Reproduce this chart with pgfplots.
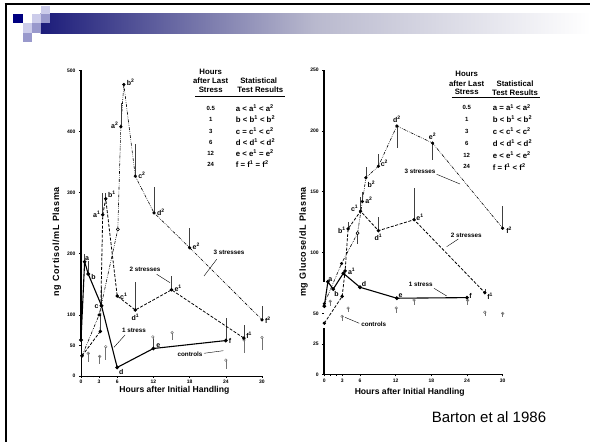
\documentclass[border=0pt]{standalone}
\usepackage{fontspec}
\setmainfont{Liberation Sans}
\usepackage{pgfplots}
\pgfplotsset{compat=1.18}
\definecolor{navy}{RGB}{0,0,128}
\definecolor{barL}{RGB}{28,28,122}
\definecolor{barM}{RGB}{185,185,206}
\definecolor{sqM}{RGB}{153,153,204}
\definecolor{sqL}{RGB}{204,204,234}
\newcommand{\lbl}{\fontsize{7}{8}\selectfont\bfseries}
\newcommand{\ann}{\fontsize{6.3}{7}\selectfont\bfseries}
\newcommand{\tbl}{\fontsize{7.8}{9.3}\selectfont\bfseries}
\newcommand{\su}[1]{\textsuperscript{#1}}
\pgfplotsset{
  panel/.style={scale only axis, anchor=south west, xmin=0, xmax=30, ymin=0, clip=false,
    axis x line=bottom, axis y line=left, axis line style={-, line width=0.8pt},
    y axis line style={draw=none},
    xtick={0,3,6,12,18,24,30}, minor xtick={1,2},
    tick align=outside, major tick length=2pt, minor tick length=1.5pt,
    every tick/.style={black, line width=0.6pt},
    tick label style={font=\fontsize{5}{6}\selectfont\bfseries},
    xticklabel style={yshift=1.2pt},
    /pgf/number format/assume math mode=true},
  ebar/.style={error bars/y dir=both, error bars/y explicit, error bars/error mark=none,
    error bars/error bar style={solid, line width=0.5pt, black!75}},
  one/.style={black, line width=1.1pt, mark=*, mark size=1.3pt, mark options={solid}, ebar},
  two/.style={black, line width=0.8pt, dash pattern=on 3pt off 1.6pt, mark=*, mark size=1.3pt, mark options={solid}, ebar},
  three/.style={black, line width=0.6pt, dash pattern=on 3pt off 1.2pt on 0.6pt off 1.2pt on 0.6pt off 1.2pt, mark=*, mark size=1.3pt, mark options={solid}, ebar},
  ctrl/.style={only marks, black!55, mark=o, mark size=1.3pt, mark options={line width=0.5pt},
    error bars/y dir=minus, error bars/y explicit, error bars/error mark=none,
    error bars/error bar style={line width=0.5pt, black!55}},
}
\begin{document}
\begin{tikzpicture}
\fill[white] (0,0) rectangle (590pt,442pt);
\path[use as bounding box] (0,0) rectangle (590pt,442pt);
% slide decoration
\shade[left color=barL, right color=white, middle color=barM] (40.6pt,408.9pt) rectangle (590pt,428.1pt);
\fill[navy] (13.2pt,418.7pt) rectangle (22.6pt,428.1pt);
\fill[sqL] (40.6pt,428.1pt) rectangle (49.7pt,436.4pt);
\fill[sqL] (32pt,418.7pt) rectangle (40.6pt,428.1pt);
\fill[sqM] (40.6pt,418.7pt) rectangle (49.7pt,428.1pt);
\fill[sqL] (22.6pt,408.9pt) rectangle (32pt,418.7pt);
\fill[sqM] (32pt,408.9pt) rectangle (40.6pt,418.7pt);
\fill[sqM] (22.6pt,399.5pt) rectangle (32pt,408.9pt);
\draw[line width=2.6pt] (6pt,0) -- (6pt,439pt);
\draw[line width=2.4pt] (4.7pt,437.8pt) -- (590pt,437.8pt);
\node[font=\fontsize{15}{16}\selectfont] at (489pt,24.4pt) {Barton et al 1986};

% ---------------- left panel: cortisol ----------------
\begin{axis}[panel, at={(81pt,66pt)}, width=181pt, height=305.5pt, ymax=500,
  ytick={0,50,100,200,300,400,500}]
\draw[line width=1.9pt] (axis cs:0,59) -- (axis cs:0,500);
\draw[line width=0.8pt] (axis cs:0,0) -- (axis cs:0,59);
\addplot[ctrl] coordinates {(1.2,37) +- (0,14) (3.1,32) +- (0,12) (4.1,48) +- (0,22)
  (11.9,64) +- (0,17) (15.1,71) +- (0,12) (24,26) +- (0,14) (27,59) +- (0,22) (30,63) +- (0,21)};
\addplot[one] coordinates {(0,59) += (0,0) -= (0,0) (0.6,187) += (0,12) -= (0,0)
  (1.2,167) += (0,22) -= (0,0) (3.4,115) += (0,30) -= (0,0) (6,14) += (0,0) -= (0,0)
  (12,45) += (0,16) -= (0,0) (24,58) += (0,37) -= (0,0)};
\addplot[two] coordinates {(0.17,33) += (0,0) -= (0,0) (3.2,73) += (0,25) -= (0,0)
  (3.6,264) += (0,36) -= (0,0) (4.1,290) += (0,10) -= (0,0) (6,131) += (0,0) -= (0,0)
  (9,108) += (0,46) -= (0,0) (15,141) += (0,22) -= (0,0) (27,62) += (0,22) -= (0,0)};
\addplot[three] coordinates {(0.17,33) += (0,0) -= (0,0) (3,100) += (0,0) -= (0,0)
  (6.1,240) += (0,0) -= (0,0) (6.6,408) += (0,39) -= (0,0) (7.1,477) += (0,0) -= (0,0)
  (9,327) += (0,53) -= (0,0) (12.1,267) += (0,43) -= (0,0) (18,210) += (0,32) -= (0,0)
  (30,92) += (0,22) -= (0,0)};
\addplot[only marks, mark=*, mark size=1.5pt, mark options={fill=white, draw=black, line width=0.5pt}] coordinates {(6.1,240)};
% point labels
\node[font=\lbl, anchor=south west, inner sep=1pt] at (axis cs:0.5,187) {a};
\node[font=\lbl, anchor=west, inner sep=1pt] at (axis cs:1.5,162) {b};
\node[font=\lbl, anchor=east, inner sep=1pt] at (axis cs:3.1,113) {c};
\node[font=\lbl, anchor=north west, inner sep=1pt] at (axis cs:6.1,12) {d};
\node[font=\lbl, anchor=south west, inner sep=1pt] at (axis cs:12.3,44) {e};
\node[font=\lbl, anchor=west, inner sep=1pt] at (axis cs:24.3,58) {f};
\node[font=\lbl, anchor=east, inner sep=1pt] at (axis cs:3.4,264) {a\su{1}};
\node[font=\lbl, anchor=south west, inner sep=1pt] at (axis cs:4.3,290) {b\su{1}};
\node[font=\lbl, anchor=west, inner sep=1pt] at (axis cs:6.3,131) {c\su{1}};
\node[font=\lbl, anchor=north, inner sep=1pt] at (axis cs:9,103) {d\su{1}};
\node[font=\lbl, anchor=west, inner sep=1pt] at (axis cs:15.3,144) {e\su{1}};
\node[font=\lbl, anchor=south west, inner sep=1pt] at (axis cs:27.2,60) {f\su{1}};
\node[font=\lbl, anchor=east, inner sep=1pt] at (axis cs:6.4,410) {a\su{2}};
\node[font=\lbl, anchor=west, inner sep=1pt] at (axis cs:7.4,480) {b\su{2}};
\node[font=\lbl, anchor=west, inner sep=1pt] at (axis cs:9.3,328) {c\su{2}};
\node[font=\lbl, anchor=west, inner sep=1pt] at (axis cs:12.4,268) {d\su{2}};
\node[font=\lbl, anchor=west, inner sep=1pt] at (axis cs:18.3,212) {e\su{2}};
\node[font=\lbl, anchor=west, inner sep=1pt] at (axis cs:30.3,92) {f\su{2}};
\end{axis}

% ---------------- right panel: glucose ----------------
\begin{axis}[panel, at={(324.3pt,67.7pt)}, width=178.4pt, height=304.3pt, ymax=250,
  ytick={0,25,50,100,150,200,250}]
\draw[line width=1.9pt] (axis cs:0,76) -- (axis cs:0,250);
\draw[line width=1.9pt] (axis cs:0,0) -- (axis cs:0,38);
\addplot[ctrl] coordinates {(1,60) +- (0,4) (3,47.5) +- (0,4) (4,54.4) +- (0,3)
  (12.1,54.4) +- (0,4) (15.1,61) +- (0,4) (24.1,60.7) +- (0,4) (27,51) +- (0,3) (30,50) +- (0,3)};
\addplot[one] coordinates {(0,56) += (0,0) -= (0,0) (0.6,76) += (0,0) -= (0,0)
  (1.5,70) += (0,0) -= (0,0) (3.2,83) += (0,0) -= (0,0) (6,71.5) += (0,0) -= (0,0)
  (12.2,62.5) += (0,0) -= (0,0) (24,63) += (0,0) -= (0,0)};
\addplot[two] coordinates {(0,42) += (0,0) -= (0,0) (3,64) += (0,0) -= (0,0)
  (3.5,85) += (0,0) -= (0,0) (4,119.5) += (0,6) -= (0,0) (6.1,134) += (0,12) -= (0,0)
  (9.1,118) += (0,11) -= (0,0) (15.1,127) += (0,26) -= (0,0) (27,67) += (0,3) -= (0,0)};
\addplot[three] coordinates {(0,58) += (0,0) -= (0,0) (2.9,91) += (0,0) -= (0,0)
  (5.6,116) += (0,0) -= (0,9) (6.4,142) += (0,8) -= (0,0) (7,161.5) += (0,9) -= (0,0)
  (9.1,171) += (0,9.6) -= (0,0) (12.2,204) += (0,0) -= (0,18) (18.2,190) += (0,0) -= (0,14)
  (30,120) += (0,18) -= (0,0)};
\addplot[only marks, mark=*, mark size=1.5pt, mark options={fill=white, draw=black, line width=0.5pt}] coordinates {(5.6,116)};
\node[font=\lbl, anchor=south west, inner sep=1pt] at (axis cs:0.5,75) {a};
\node[font=\lbl, anchor=north west, inner sep=1pt] at (axis cs:1.5,69) {b};
\node[font=\lbl, anchor=west, inner sep=1pt] at (axis cs:3.8,85) {a\su{1}};
\node[font=\lbl, anchor=south west, inner sep=1pt] at (axis cs:6.1,71) {d};
\node[font=\lbl, anchor=south west, inner sep=1pt] at (axis cs:12.3,62) {e};
\node[font=\lbl, anchor=west, inner sep=1pt] at (axis cs:24.2,64) {f};
\node[font=\lbl, anchor=east, inner sep=1pt] at (axis cs:3.8,118) {b\su{1}};
\node[font=\lbl, anchor=south east, inner sep=1pt] at (axis cs:5.9,133) {c\su{1}};
\node[font=\lbl, anchor=north, inner sep=1pt] at (axis cs:9.1,116) {d\su{1}};
\node[font=\lbl, anchor=south west, inner sep=1pt] at (axis cs:15.3,125) {e\su{1}};
\node[font=\lbl, anchor=north west, inner sep=1pt] at (axis cs:27.2,68) {f\su{1}};
\node[font=\lbl, anchor=west, inner sep=1pt] at (axis cs:6.7,143) {a\su{2}};
\node[font=\lbl, anchor=north west, inner sep=1pt] at (axis cs:7.1,160) {b\su{2}};
\node[font=\lbl, anchor=west, inner sep=1pt] at (axis cs:9.3,173) {c\su{2}};
\node[font=\lbl, anchor=south, inner sep=1pt] at (axis cs:12.2,206) {d\su{2}};
\node[font=\lbl, anchor=south, inner sep=1pt] at (axis cs:18.2,192) {e\su{2}};
\node[font=\lbl, anchor=north west, inner sep=1pt] at (axis cs:30.4,122) {f\su{2}};
\end{axis}

% axis titles
\node[font=\fontsize{8.6}{9}\selectfont\bfseries] at (174.4pt,51.3pt) {Hours after Initial Handling};
\node[font=\fontsize{8.6}{9}\selectfont\bfseries] at (409.7pt,49.5pt) {Hours after Initial Handling};
\node[font=\fontsize{9}{10}\selectfont\bfseries\addfontfeatures{LetterSpace=7}, rotate=90] at (56.7pt,200.3pt) {ng Cortisol/mL Plasma};
\node[font=\fontsize{9}{10}\selectfont\bfseries\addfontfeatures{LetterSpace=7}, rotate=90] at (303.5pt,200pt) {mg Glucose/dL Plasma};

% series annotations
\node[font=\ann] at (229pt,189.3pt) {3 stresses};
\draw[line width=0.4pt] (216.7pt,182.7pt) -- (204pt,166pt);
\node[font=\ann] at (145pt,172.7pt) {2 stresses};
\draw[line width=0.4pt] (156.7pt,167.7pt) -- (170pt,159.3pt);
\node[font=\ann] at (134pt,111.3pt) {1 stress};
\draw[line width=0.4pt] (125pt,107pt) -- (114pt,94.7pt);
\node[font=\ann] at (190pt,88pt) {controls};
\draw[line width=0.4pt] (204pt,88.7pt) -- (223.3pt,91.3pt);
\node[font=\ann] at (420pt,271pt) {3 stresses};
\draw[line width=0.4pt] (436.7pt,267.7pt) -- (460pt,258pt);
\node[font=\ann] at (466.3pt,206.3pt) {2 stresses};
\draw[line width=0.4pt] (458.3pt,203pt) -- (446.7pt,195.3pt);
\node[font=\ann] at (420.7pt,158pt) {1 stress};
\draw[line width=0.4pt] (434pt,153.7pt) -- (446.7pt,146pt);
\node[font=\ann] at (373.7pt,117.7pt) {controls};
\draw[line width=0.4pt] (359.3pt,118.7pt) -- (345pt,124.7pt);

% tables
\begin{scope}[every node/.style={font=\tbl, inner sep=0pt}]
\node at (210.7pt,370.3pt) {Hours};
\node at (210.7pt,361pt) {after Last};
\node at (210.7pt,352pt) {Stress};
\node at (258.7pt,361pt) {Statistical};
\node at (260.3pt,352pt) {Test Results};
\draw[line width=0.8pt] (195pt,345.3pt) -- (285pt,345.3pt);
\foreach \yy/\hh/\rr in {333.7/0.5/{a < a\su{1} < a\su{2}}, 323/1/{b < b\su{1} < b\su{2}},
  311/3/{c = c\su{1} < c\su{2}}, 299.7/6/{d < d\su{1} < d\su{2}},
  288.7/12/{e < e\su{1} = e\su{2}}, 277.7/24/{f = f\su{1} = f\su{2}}}{
  \node[font=\fontsize{6}{7}\selectfont\bfseries] at (210.7pt,\yy pt) {\hh};
  \node[anchor=west] at (235.7pt,\yy pt) {\rr};
}
\node at (466.7pt,368pt) {Hours};
\node at (466.7pt,358.7pt) {after Last};
\node at (466.7pt,349.7pt) {Stress};
\node at (515pt,358.7pt) {Statistical};
\node at (515pt,349.7pt) {Test Results};
\draw[line width=0.8pt] (451.7pt,344.7pt) -- (540pt,344.7pt);
\foreach \yy/\hh/\rr in {334.3/0.5/{a = a\su{1} < a\su{2}}, 322.7/1/{b < b\su{1} < b\su{2}},
  311/3/{c < c\su{1} < c\su{2}}, 298.7/6/{d < d\su{1} < d\su{2}},
  287/12/{e < e\su{1} < e\su{2}}, 275.3/24/{f = f\su{1} < f\su{2}}}{
  \node[font=\fontsize{6}{7}\selectfont\bfseries] at (466.7pt,\yy pt) {\hh};
  \node[anchor=west] at (492.7pt,\yy pt) {\rr};
}
\end{scope}
\end{tikzpicture}
\end{document}
